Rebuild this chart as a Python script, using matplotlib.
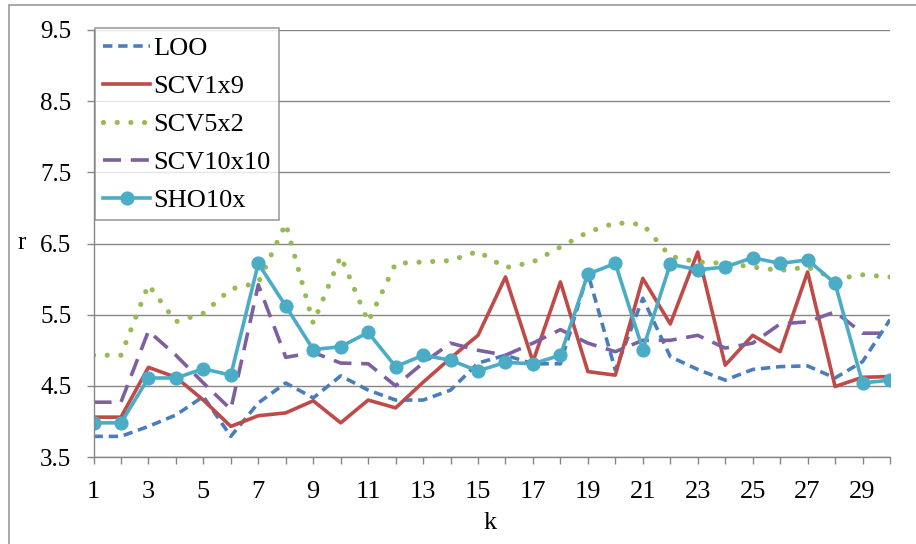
import matplotlib
matplotlib.use("Agg")
import matplotlib.pyplot as plt
from matplotlib.patches import Rectangle

k = list(range(1, 31))

loo = [3.79, 3.79, 3.93, 4.09, 4.35, 3.79, 4.26, 4.54, 4.33, 4.64,
       4.44, 4.30, 4.30, 4.44, 4.82, 4.93, 4.81, 4.81, 6.08, 4.72,
       5.73, 4.91, 4.73, 4.58, 4.73, 4.77, 4.78, 4.61, 4.84, 5.43]
scv1x9 = [4.06, 4.06, 4.76, 4.62, 4.30, 3.93, 4.08, 4.12, 4.29, 3.98,
          4.30, 4.19, 4.55, 4.89, 5.21, 6.03, 4.84, 5.96, 4.70, 4.65,
          6.01, 5.37, 6.38, 4.79, 5.21, 4.98, 6.10, 4.49, 4.62, 4.63]
scv5x2 = [4.93, 4.93, 5.92, 5.40, 5.52, 5.86, 5.95, 6.78, 5.38, 6.32,
          5.40, 6.22, 6.24, 6.26, 6.39, 6.16, 6.24, 6.45, 6.66, 6.79,
          6.77, 6.32, 6.24, 6.22, 6.17, 6.12, 6.17, 6.00, 6.06, 6.03]
scv10x10 = [4.27, 4.27, 5.27, 4.93, 4.54, 4.17, 5.92, 4.90, 4.97, 4.82,
            4.81, 4.50, 4.82, 5.10, 5.00, 4.93, 5.10, 5.29, 5.10, 4.98,
            5.14, 5.14, 5.21, 5.03, 5.10, 5.37, 5.40, 5.54, 5.24, 5.24]
sho10x = [3.98, 3.98, 4.61, 4.61, 4.74, 4.65, 6.22, 5.62, 5.01, 5.05,
          5.25, 4.77, 4.93, 4.86, 4.71, 4.83, 4.81, 4.93, 6.07, 6.22,
          5.01, 6.21, 6.13, 6.17, 6.30, 6.22, 6.27, 5.94, 4.54, 4.58]

y_ticks = [3.5, 4.5, 5.5, 6.5, 7.5, 8.5, 9.5]
x_labels = [str(v) if v % 2 == 1 else "" for v in k]

plt.rcParams["font.family"] = ["Liberation Serif", "DejaVu Serif"]

W, H = 916, 544
fig = plt.figure(figsize=(W / 100, H / 100), dpi=100)

def fx(px):
    return px / W

def fy(py):
    return 1 - py / H

# chart-area frame
fig.patches.append(Rectangle((fx(9), fy(560)), fx(930) - fx(9), fy(5) - fy(560),
                             transform=fig.transFigure, fill=False,
                             edgecolor="#9a9a9a", linewidth=1.2))

ax = fig.add_axes([fx(93.5), fy(457), fx(890) - fx(93.5), fy(30) - fy(457)])

grey = "#868686"
lw = 2.6
ax.plot(k, loo, color="#4A7EBB", lw=lw, linestyle=(0, (2.6, 1.6)),
        dash_capstyle="butt", label="LOO")
ax.plot(k, scv1x9, color="#BE4B48", lw=lw, label="SCV1x9")
ax.plot(k, scv5x2, color="#98B954", lw=3.7, linestyle=(0, (0.01, 2.65)),
        dash_capstyle="round", label="SCV5x2")
ax.plot(k, scv10x10, color="#7D60A0", lw=lw, linestyle=(0, (5.0, 2.7)),
        dash_capstyle="butt", label="SCV10x10")
ax.plot(k, sho10x, color="#4BACC6", lw=lw, marker="o", markersize=9.2,
        label="SHO10x")

ax.set_xlim(1, 30)
ax.set_ylim(3.5, 9.5)
ax.set_yticks(y_ticks)
ax.set_yticklabels([f"{v:.1f}" for v in y_ticks])
ax.set_xticks(k)
ax.set_xticklabels(x_labels)
ax.grid(axis="y", color=grey, linewidth=1.0)
ax.set_axisbelow(True)
for s in ("top", "right"):
    ax.spines[s].set_visible(False)
for s in ("left", "bottom"):
    ax.spines[s].set_color(grey)
    ax.spines[s].set_linewidth(1.0)
ax.tick_params(axis="both", colors=grey, length=5, width=1.0,
               labelcolor="black")
ax.tick_params(axis="x", pad=12, labelsize=19)
ax.tick_params(axis="y", pad=11, labelsize=18)

fig.text(fx(22), fy(243), "r", fontsize=18, ha="center", va="center")
fig.text(fx(490), fy(523), "k", fontsize=19, ha="center", va="center")

leg = ax.legend(loc="upper left", bbox_to_anchor=(fx(95), fy(28)),
                bbox_transform=fig.transFigure, borderaxespad=0,
                fontsize=19, frameon=True, fancybox=False,
                handlelength=1.75, handletextpad=0.15, labelspacing=0.55,
                borderpad=0.32)
leg.get_frame().set_edgecolor(grey)
leg.get_frame().set_linewidth(1.2)

fig.savefig("out.png", dpi=100)
